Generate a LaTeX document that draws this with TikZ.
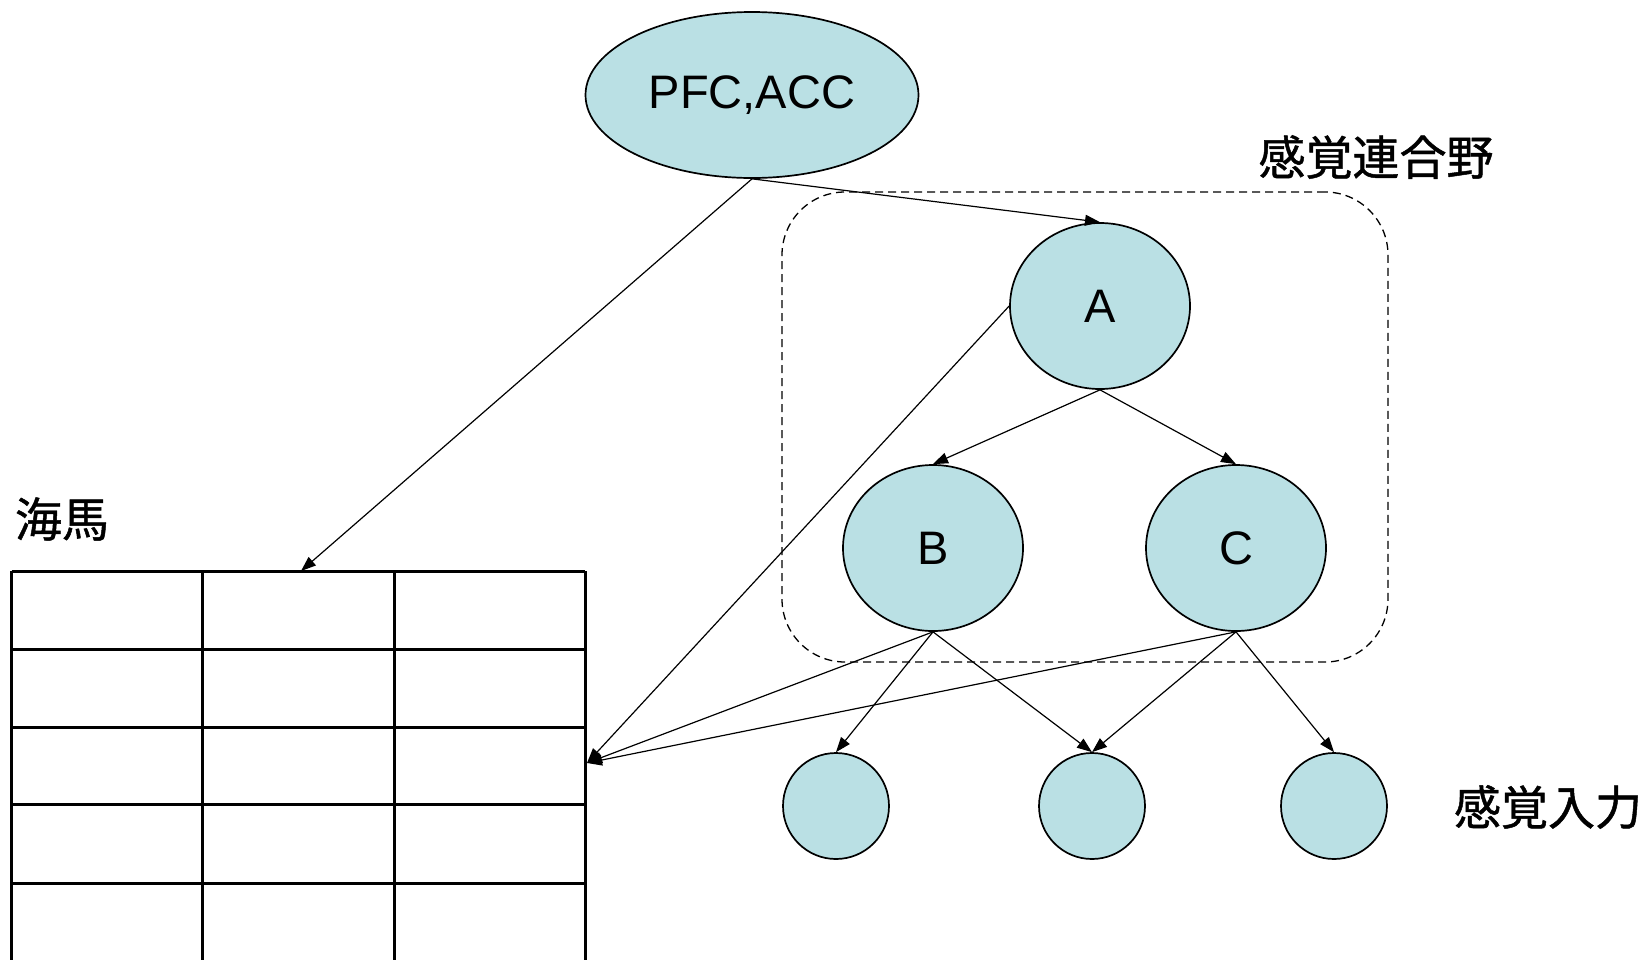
\documentclass[tikz,border=0pt]{standalone}
\usepackage{fontspec}
\setmainfont{Liberation Sans}
\newfontfamily\jpfont[FakeBold=1]{Noto Sans CJK JP}
\usepackage{xcolor}
\usepackage{tikz}
\usetikzlibrary{positioning, shapes.geometric, arrows.meta}

\definecolor{areablue}{RGB}{186,224,228}

\begin{document}
\begin{tikzpicture}[x=1pt, y=-1pt,
area/.style={ellipse, draw=black, line width=1.7pt, fill=areablue, inner sep=0pt, minimum width=180pt, minimum height=166pt, font=\fontsize{47}{50}\selectfont},
leaf/.style={area, minimum width=106pt, minimum height=106pt},
region/.style={rectangle, draw=black, line width=1.3pt, dash pattern=on 8pt off 5pt, rounded corners=63pt, minimum width=606pt, minimum height=470pt},
link/.style={-{Triangle[length=15pt, width=11pt]}, line width=1.2pt},
cell/.style={line width=3pt},
tag/.style={font=\jpfont\fontsize{47}{50}\selectfont}
]
\useasboundingbox (0,0) rectangle (1644,959);

% association area frame
\node[region](assoc) at (1085,427){};
\node[tag](assoc_label) at (1376,157){感覚連合野};

\node[area, minimum width=333pt](pfc) at (752,95){PFC,ACC};

\node[area](a) at (1100,306){A};
\node[area](b) at (933,548){B};
\node[area](c)[right of = b, node distance=303pt]{C};

\node[leaf](in1) at (836,806){};
\node[leaf](in2)[right of = in1, node distance=256pt]{};
\node[leaf](in3)[right of = in2, node distance=242pt]{};
\node[tag](in_label) at (1548,807){感覚入力};

% hippocampus table
\node[tag](hip_label) at (62,519){海馬};
\foreach \y in {571,649,727,804,883}
  \draw[cell] (11.5,\y) -- (585,\y);
\foreach \x in {11.5,202,394,585}
  \draw[cell] (\x,571) -- (\x,960);
\coordinate (hip_top) at (301,571);
\coordinate (hip_in) at (587,763);

\draw[link] (pfc.south) -- (hip_top);
\draw[link] (pfc.south) -- (a.north);

\draw[link] (a.south) -- (b.north);
\draw[link] (a.south) -- (c.north);

\draw[link] (b.south) -- (in1.north);
\draw[link] (b.south) -- (in2.north);
\draw[link] (c.south) -- (in2.north);
\draw[link] (c.south) -- (in3.north);

\draw[link] (a.west) -- (hip_in);
\draw[link] (b.south) -- (hip_in);
\draw[link] (c.south) -- (hip_in);

\end{tikzpicture}
\end{document}
